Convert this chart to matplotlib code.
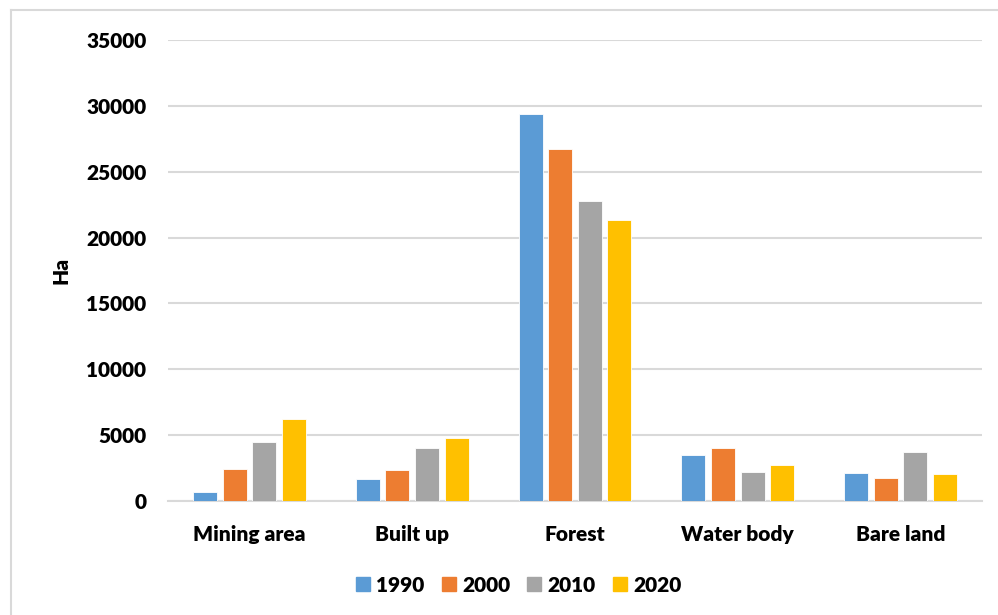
import matplotlib
matplotlib.use("Agg")
import matplotlib.pyplot as plt
import numpy as np
from matplotlib.lines import Line2D

categories = ["Mining area", "Built up", "Forest", "Water body", "Bare land"]
years = ["1990", "2000", "2010", "2020"]
v1990 = [650, 1650, 29350, 3500, 2150]
v2000 = [2450, 2350, 26750, 4000, 1750]
v2010 = [4500, 4050, 22800, 2230, 3750]
v2020 = [6250, 4800, 21350, 2750, 2080]
colors = ["#5B9BD5", "#ED7D31", "#A5A5A5", "#FFC000"]
yticks = [0, 5000, 10000, 15000, 20000, 25000, 30000, 35000]

plt.rcParams['font.family'] = ['Lato', 'DejaVu Sans']
FW = 'heavy'
FS = 15

fig = plt.figure(figsize=(9.98, 6.15), dpi=100)
ax = fig.add_axes([168/998, 114/615, 814/998, 461/615])

series = [v1990, v2000, v2010, v2020]
x = np.arange(len(categories))
step = 0.182
width = 0.147
for i, (vals, c, lab) in enumerate(zip(series, colors, years)):
    ax.bar(x + (i - 1.5) * step, vals, width=width, color=c, label=lab,
           edgecolor='white', linewidth=0.6, zorder=3)

ax.set_xlim(-0.5, len(categories) - 0.5)
ax.set_ylim(0, 35000)
ax.set_yticks(yticks)
ax.set_yticklabels([str(t) for t in yticks], fontsize=FS, fontweight=FW)
ax.set_xticks(x)
ax.set_xticklabels(categories, fontsize=FS, fontweight=FW)
ax.tick_params(axis='both', length=0)
ax.tick_params(axis='y', pad=15.5)
ax.tick_params(axis='x', pad=17)
ax.grid(axis='y', color='#D9D9D9', linewidth=1.5, zorder=0)
for s in ['top', 'right', 'left']:
    ax.spines[s].set_visible(False)
ax.spines['bottom'].set_color('#D9D9D9')
ax.spines['bottom'].set_linewidth(1.5)
ax.set_ylabel('Ha', fontsize=FS, fontweight=FW, labelpad=11)

handles = [Line2D([0], [0], marker='s', linestyle='none', markersize=10,
                  markerfacecolor=c, markeredgecolor=c) for c in colors]
fig.legend(handles, years, loc='center', bbox_to_anchor=(516/998, 1 - 585/615),
           ncol=4, frameon=False, prop={'size': FS, 'weight': FW},
           handletextpad=0.05, columnspacing=0.55, handlelength=1.2)

fig.add_artist(Line2D([11/998, 11/998], [0, 1 - 10/615], color='#D9D9D9', linewidth=1.5, transform=fig.transFigure))
fig.add_artist(Line2D([11/998, 997/998], [1 - 10/615, 1 - 10/615], color='#D9D9D9', linewidth=1.5, transform=fig.transFigure))

fig.savefig('out.png', dpi=100)
